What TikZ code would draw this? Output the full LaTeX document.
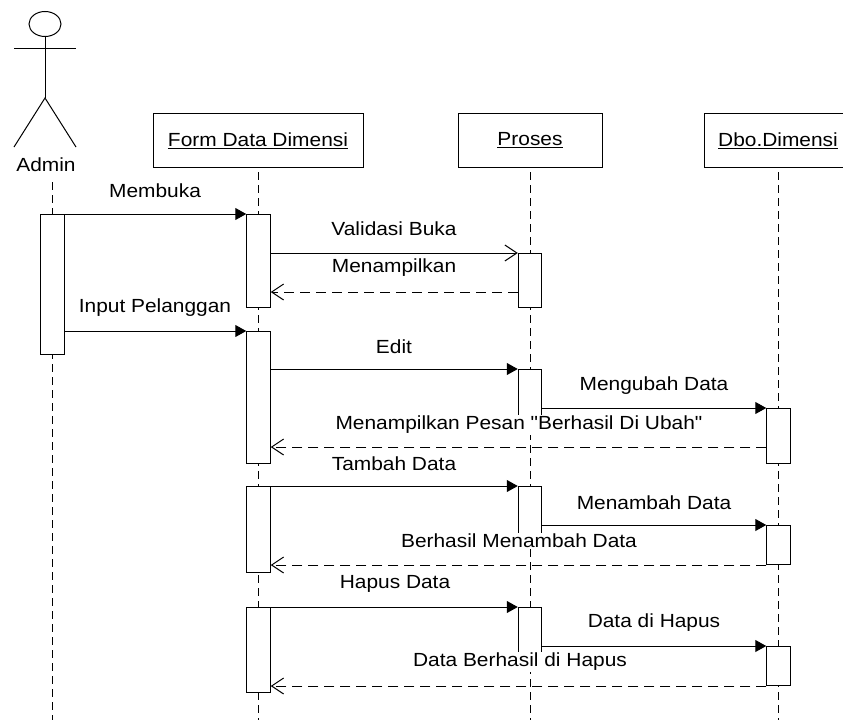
\documentclass[tikz,border=0pt]{standalone}
\usepackage{fontspec}
\setmainfont[FakeStretch=1.1,Ligatures=TeXOff]{Liberation Sans}
\usetikzlibrary{arrows.meta,shapes.geometric}
\tikzset{
  x=1pt,y=-1pt,
  every node/.style={font=\fontsize{19}{22}\selectfont},
  objbox/.style={draw,line width=1pt,fill=white,minimum height=54pt,inner sep=0pt,anchor=north},
  actbar/.style={draw,line width=1pt,fill=white,inner sep=0pt,minimum width=23.5pt,anchor=north},
  lifeline/.style={line width=1pt,dash pattern=on 8pt off 5pt},
  msg/.style={fill=white,inner sep=1pt},
  freemsg/.style={inner sep=1pt},
  callsync/.style={line width=1pt,-{Triangle[length=11pt,width=12pt]}},
  callopen/.style={line width=1pt,-{Straight Barb[length=12pt,width=16pt]}},
  reply/.style={line width=1pt,dash pattern=on 10pt off 6pt,-{Straight Barb[length=12pt,width=16pt]}},
  stick/.style={line width=1pt}
}
\begin{document}
\begin{tikzpicture}
\useasboundingbox (0,0) rectangle (843,720);
\clip (0,0) rectangle (843,720);
% actor
\node[draw,ellipse,line width=1pt,minimum width=32pt,minimum height=25pt,inner sep=0pt] (head) at (45,24) {};
\coordinate (hip) at (45,98);
\coordinate (armL) at (14,48);
\coordinate (armR) at (76,48);
\coordinate (footL) at (14,147);
\coordinate (footR) at (76,147);
\draw[stick] (head.south) -- (hip);
\draw[stick] (armL) -- (armR);
\draw[stick] (footL) -- (hip) -- (footR);
\node[inner sep=0pt] (admin) at (46,165) {Admin};
% object boxes
\node[objbox,minimum width=210pt] (form) at (258,113) {\underline{Form Data Dimensi}};
\node[objbox,minimum width=144pt] (proses) at (530,113) {\underline{Proses}};
\node[objbox,minimum width=148pt] (dbo) at (778,113) {\underline{Dbo.Dimensi}};
% lifelines
\coordinate (adminTop) at (52,182);
\coordinate (adminEnd) at (52,720);
\coordinate (formTop) at (258,172);
\coordinate (formEnd) at (258,720);
\coordinate (prosesTop) at (530,172);
\coordinate (prosesEnd) at (530,720);
\coordinate (dboTop) at (778,172);
\coordinate (dboEnd) at (778,720);
\draw[lifeline] (adminTop) -- (adminEnd);
\draw[lifeline] (formTop) -- (formEnd);
\draw[lifeline] (prosesTop) -- (prosesEnd);
\draw[lifeline] (dboTop) -- (dboEnd);
% activations
\node[actbar,minimum height=140pt] (a1) at (52.5,214) {};
\node[actbar,minimum height=93pt] (f1) at (258.5,214) {};
\node[actbar,minimum height=132pt] (f2) at (258.5,331) {};
\node[actbar,minimum height=86pt] (f3) at (258.5,486) {};
\node[actbar,minimum height=85pt] (f4) at (258.5,607) {};
\node[actbar,minimum height=54pt] (p1) at (530,253) {};
\node[actbar,minimum height=55pt] (p2) at (530,369) {};
\node[actbar,minimum height=54pt] (p3) at (530,486) {};
\node[actbar,minimum height=54pt] (p4) at (530,607) {};
\node[actbar,minimum height=55pt] (d1) at (778.5,408) {};
\node[actbar,minimum height=39pt] (d2) at (778.5,525) {};
\node[actbar,minimum height=39pt] (d3) at (778.5,646) {};
% levels of the messages
\coordinate (y292) at (0,292);
\coordinate (y447) at (0,447);
\coordinate (y253) at (0,253);
\coordinate (y369) at (0,369);
% connectors
\draw[callsync] (a1.north east) -- (f1.north west);
\draw[callopen] (f1.east |- y253) -- (p1.north west);
\draw[reply] (p1.west |- y292) -- (f1.east |- y292);
\draw[callsync] (a1.east |- f2.north) -- (f2.north west);
\draw[callsync] (f2.east |- y369) -- (p2.north west);
\draw[callsync] (p2.east |- d1.north) -- (d1.north west);
\draw[reply] (d1.west |- y447) -- (f2.east |- y447);
\draw[callsync] (f3.north east) -- (p3.north west);
\draw[callsync] (p3.east |- d2.north) -- (d2.north west);
\draw[reply] (d2.south west) -- (f3.east |- d2.south);
\draw[callsync] (f4.north east) -- (p4.north west);
\draw[callsync] (p4.east |- d3.north) -- (d3.north west);
\draw[reply] (d3.south west) -- (f4.east |- d3.south);
% labels
\node[freemsg] (l1) at (155,191) {Membuka};
\node[freemsg] (l2) at (394,229) {Validasi Buka};
\node[freemsg] (l3) at (394,268) {Menampilkan};
\node[freemsg] (l4) at (155,308) {Input Pelanggan};
\node[freemsg] (l5) at (394,347) {Edit};
\node[freemsg] (l6) at (654,386) {Mengubah Data};
\node[msg] (l7) at (519,425) {Menampilkan Pesan "Berhasil Di Ubah"};
\node[freemsg] (l8) at (394,464) {Tambah Data};
\node[freemsg] (l9) at (654,503) {Menambah Data};
\node[msg] (l10) at (519,541) {Berhasil Menambah Data};
\node[freemsg] (l11) at (395,584) {Hapus Data};
\node[freemsg] (l12) at (654,623) {Data di Hapus};
\node[msg] (l13) at (520,662) {Data Berhasil di Hapus};
\end{tikzpicture}
\end{document}
